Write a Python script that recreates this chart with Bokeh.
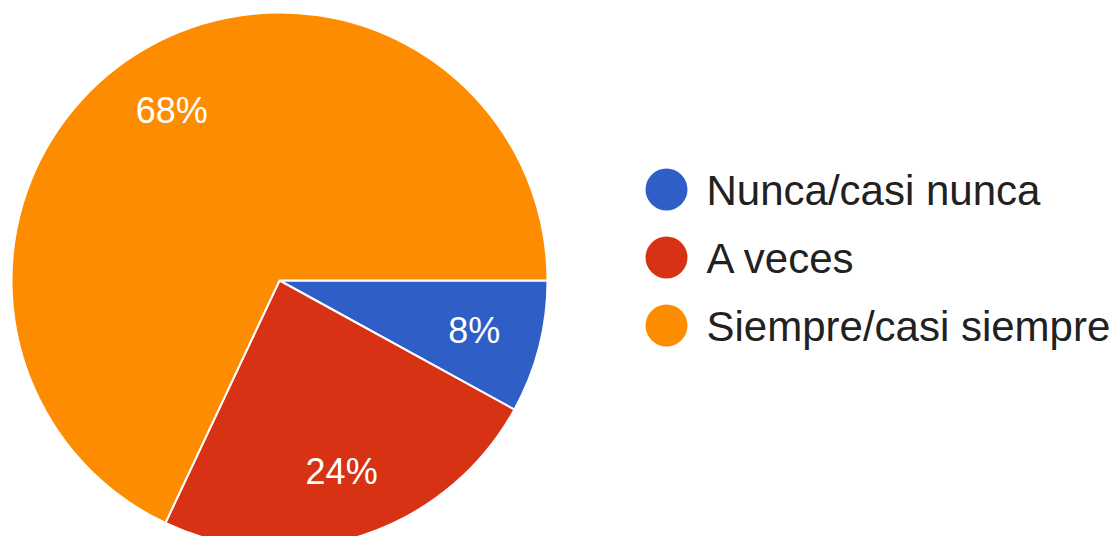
import math
from bokeh.plotting import figure
from bokeh.models import Range1d, ColumnDataSource
from bokeh.core.properties import value
from bokeh.embed import file_html
from bokeh.resources import INLINE

categories = ["Nunca/casi nunca", "A veces", "Siempre/casi siempre"]
shares = [8, 24, 68]
labels = ["8%", "24%", "68%"]
colors = ["#2E5EC6", "#D83214", "#FE8C00"]

W, H = 1110, 536
p = figure(width=W, height=H, output_backend="svg", toolbar_location=None,
           x_range=Range1d(0, W), y_range=Range1d(0, H),
           min_border=0, outline_line_color=None)
p.axis.visible = False
p.grid.visible = False
p.background_fill_color = "white"

# data_y = H - screen_y
cx, cy = 279, H - 280
R = 268

total = sum(shares)
starts, ends, lx, ly = [], [], [], []
cum = 0.0
for s in shares:
    a0 = cum / total
    cum += s
    a1 = cum / total
    starts.append(-a1 * 2 * math.pi)
    ends.append(-a0 * 2 * math.pi)
    mid = -(a0 + a1) / 2 * 2 * math.pi
    lx.append(cx + 0.75 * R * math.cos(mid))
    ly.append(cy + 0.75 * R * math.sin(mid))

src = ColumnDataSource(dict(start=starts, end=ends, color=colors, lx=lx, ly=ly, label=labels))
p.wedge(x=cx, y=cy, radius=R, start_angle="start", end_angle="end", fill_color="color",
        line_color="white", line_width=2, source=src)
p.text(x="lx", y="ly", text="label", source=src, text_color="white",
       text_font=value("Liberation Sans"), text_font_size="36px",
       text_align="center", text_baseline="middle")

# legend
leg_y = [H - (189 + 68 * i) for i in range(len(categories))]
leg = ColumnDataSource(dict(x=[666] * len(categories), tx=[706] * len(categories),
                            y=leg_y, ty=[v - 1 for v in leg_y], name=categories, color=colors))
p.scatter(x="x", y="y", size=42, marker="circle", fill_color="color", line_color=None, source=leg)
p.text(x="tx", y="ty", text="name", source=leg, text_color="#212121",
       text_font=value("Liberation Sans"), text_font_size="42px",
       text_align="left", text_baseline="middle")

open("out.html", "w").write(file_html(p, INLINE))
